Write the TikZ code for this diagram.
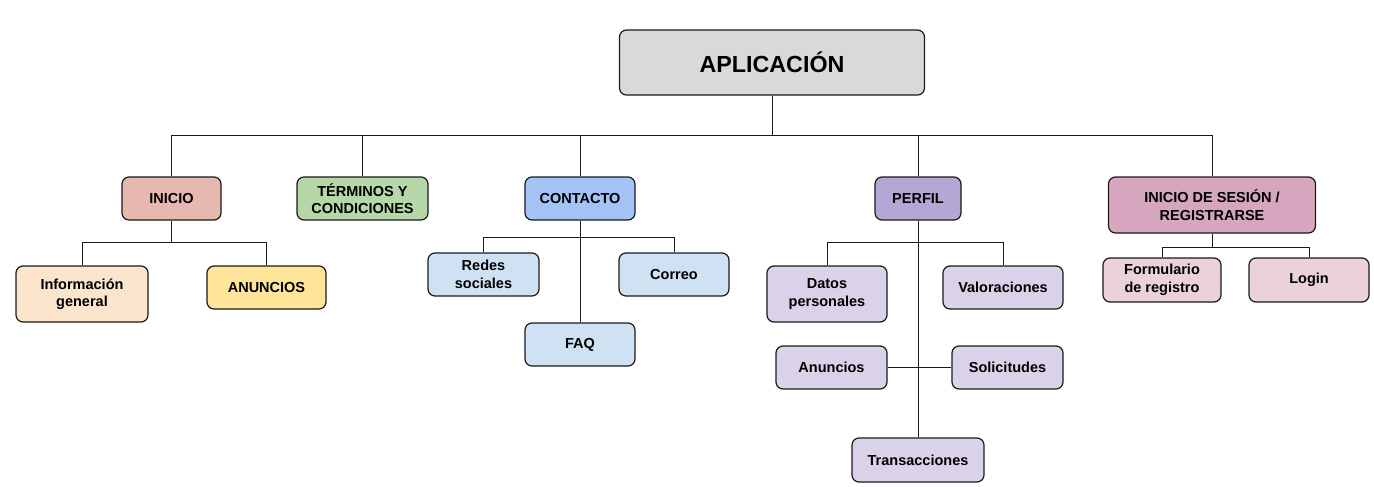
\documentclass[tikz,border=0pt]{standalone}
\usepackage{fontspec}
\setmainfont{Liberation Sans}
\definecolor{cApp}{HTML}{D9D9D9}
\definecolor{cIni}{HTML}{E6B8AF}
\definecolor{cTer}{HTML}{B6D7A8}
\definecolor{cCon}{HTML}{A4C2F4}
\definecolor{cPer}{HTML}{B4A7D6}
\definecolor{cSes}{HTML}{D5A6BD}
\definecolor{cInfo}{HTML}{FCE5CD}
\definecolor{cAnu}{HTML}{FFE599}
\definecolor{cConL}{HTML}{CFE2F3}
\definecolor{cPerL}{HTML}{D9D2E9}
\definecolor{cSesL}{HTML}{EAD1DC}
\definecolor{cLine}{HTML}{1A1A1A}
\tikzset{
  box/.style={draw=cLine, line width=1.2pt, rounded corners=7pt, inner sep=0pt,
    align=center, font=\fontsize{14.5}{17.5}\selectfont\bfseries, text=black},
  conn/.style={draw=cLine, line width=1pt},
}
\begin{document}
\begin{tikzpicture}[x=1pt,y=-1pt]
\useasboundingbox[fill=white] (0,0) rectangle (1374,487);
% root
\node[box, fill=cApp, minimum width=305pt, minimum height=65pt, font=\fontsize{23.3}{28}\selectfont\bfseries] (app) at (772,62.5) {APLICACIÓN};
% level 1
\node[box, fill=cIni, minimum width=99pt, minimum height=43pt] (ini) at (171.5,198.5) {INICIO};
\node[box, fill=cTer, minimum width=131pt, minimum height=43pt] (ter) at (362.5,198.5) {TÉRMINOS Y\\CONDICIONES};
\node[box, fill=cCon, minimum width=110pt, minimum height=43pt] (con) at (580,198.5) {CONTACTO};
\node[box, fill=cPer, minimum width=86pt, minimum height=43pt] (per) at (918,198.5) {PERFIL};
\node[box, fill=cSes, minimum width=207pt, minimum height=56pt] (ses) at (1212,205) {INICIO DE SESIÓN /\\REGISTRARSE};
% INICIO children
\node[box, fill=cInfo, minimum width=132pt, minimum height=56pt] (info) at (82,294) {Información\\general};
\node[box, fill=cAnu, minimum width=119pt, minimum height=43pt] (anu) at (266.5,287.5) {ANUNCIOS};
% CONTACTO children
\node[box, fill=cConL, minimum width=111pt, minimum height=43pt] (red) at (483.5,274.5) {Redes\\sociales};
\node[box, fill=cConL, minimum width=110pt, minimum height=43pt] (cor) at (674,274.5) {Correo};
\node[box, fill=cConL, minimum width=110pt, minimum height=43pt] (faq) at (580,344.5) {FAQ};
% PERFIL children
\node[box, fill=cPerL, minimum width=120pt, minimum height=56pt] (dat) at (827,294) {Datos\\personales};
\node[box, fill=cPerL, minimum width=120pt, minimum height=43pt] (val) at (1003,287.5) {Valoraciones};
\node[box, fill=cPerL, minimum width=111pt, minimum height=43pt] (anp) at (831.5,367.5) {Anuncios};
\node[box, fill=cPerL, minimum width=111pt, minimum height=43pt] (sol) at (1007.5,367.5) {Solicitudes};
\node[box, fill=cPerL, minimum width=132pt, minimum height=44pt] (tra) at (918,460) {Transacciones};
% SESION children
\node[box, fill=cSesL, minimum width=118pt, minimum height=44pt] (form) at (1162,280) {Formulario\\de registro};
\node[box, fill=cSesL, minimum width=120pt, minimum height=44pt] (log) at (1309,280) {Login};
% bus coordinates
\coordinate (b0) at (772,135);
\coordinate (b1) at (171.5,242);
\coordinate (b2) at (580,237);
\coordinate (b3) at (918,242);
\coordinate (b4) at (1212,247);
% connectors
\draw[conn] (app.south) -- (b0);
\draw[conn] (ini.north) -- (ini.north |- b0) -- (ses.north |- b0) -- (ses.north);
\draw[conn] (ter.north) -- (ter.north |- b0);
\draw[conn] (con.north) -- (con.north |- b0);
\draw[conn] (per.north) -- (per.north |- b0);
\draw[conn] (ini.south) -- (b1);
\draw[conn] (info.north) -- (info.north |- b1) -- (anu.north |- b1) -- (anu.north);
\draw[conn] (con.south) -- (faq.north);
\draw[conn] (red.north) -- (red.north |- b2) -- (cor.north |- b2) -- (cor.north);
\draw[conn] (per.south) -- (tra.north);
\draw[conn] (dat.north) -- (dat.north |- b3) -- (val.north |- b3) -- (val.north);
\draw[conn] (anp.east) -- (sol.west);
\draw[conn] (ses.south) -- (b4);
\draw[conn] (form.north) -- (form.north |- b4) -- (log.north |- b4) -- (log.north);
\end{tikzpicture}
\end{document}
